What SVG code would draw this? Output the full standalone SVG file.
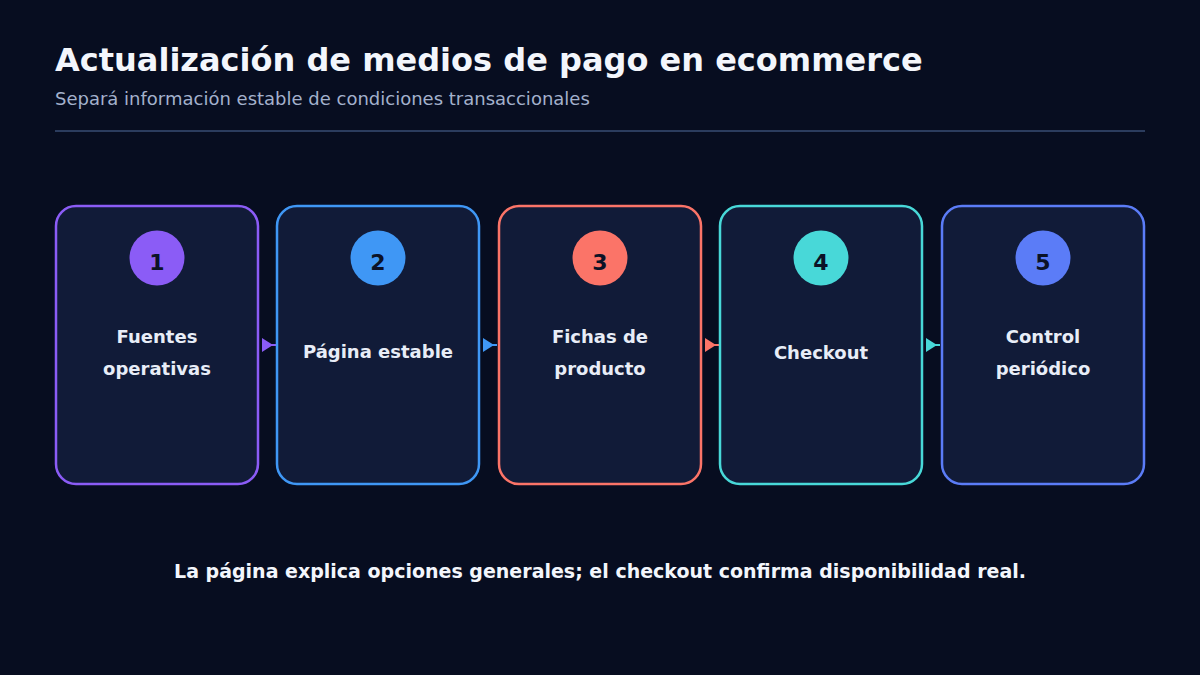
<svg xmlns="http://www.w3.org/2000/svg" width="1200" height="675" viewBox="0 0 1200 675">
<style>
.title{font-family:"DejaVu Sans",sans-serif;font-weight:bold;font-size:32px;fill:#f3f6fc}
.sub{font-family:"DejaVu Sans",sans-serif;font-size:18px;fill:#a3b1cc}
.card{fill:#111b38;stroke-width:2.5}
.num{font-family:"DejaVu Sans",sans-serif;font-weight:bold;font-size:22px;fill:#0b1226;text-anchor:middle}
.lbl{font-family:"DejaVu Sans",sans-serif;font-weight:bold;font-size:18px;fill:#e8edf7;text-anchor:middle}
.foot{font-family:"DejaVu Sans",sans-serif;font-weight:bold;font-size:19px;fill:#f3f6fc;text-anchor:middle}
.conn{stroke-width:2;fill:none}
</style>
<defs>
<marker id="a1" viewBox="0 0 10 14" refX="10" refY="7" markerWidth="10" markerHeight="14" orient="auto" markerUnits="userSpaceOnUse"><path d="M0,0 L10,7 L0,14 z" fill="#8b5cf6"/></marker>
<marker id="a2" viewBox="0 0 10 14" refX="10" refY="7" markerWidth="10" markerHeight="14" orient="auto" markerUnits="userSpaceOnUse"><path d="M0,0 L10,7 L0,14 z" fill="#3f97f5"/></marker>
<marker id="a3" viewBox="0 0 10 14" refX="10" refY="7" markerWidth="10" markerHeight="14" orient="auto" markerUnits="userSpaceOnUse"><path d="M0,0 L10,7 L0,14 z" fill="#fb7468"/></marker>
<marker id="a4" viewBox="0 0 10 14" refX="10" refY="7" markerWidth="10" markerHeight="14" orient="auto" markerUnits="userSpaceOnUse"><path d="M0,0 L10,7 L0,14 z" fill="#48d8d8"/></marker>
</defs>
<rect width="1200" height="675" fill="#070d20"/>
<text class="title" x="55" y="71">Actualización de medios de pago en ecommerce</text>
<text class="sub" x="55" y="105">Separá información estable de condiciones transaccionales</text>
<line x1="55" y1="131" x2="1145" y2="131" stroke="#2b3c5e" stroke-width="2"/>
<g id="connectors">
<line class="conn" x1="262" y1="345" x2="276" y2="345" stroke="#8b5cf6"/>
<path d="M262,338 L273,345 L262,352 z" fill="#8b5cf6"/>
<line class="conn" x1="483" y1="345" x2="497" y2="345" stroke="#3f97f5"/>
<path d="M483,338 L494,345 L483,352 z" fill="#3f97f5"/>
<line class="conn" x1="705" y1="345" x2="719" y2="345" stroke="#fb7468"/>
<path d="M705,338 L716,345 L705,352 z" fill="#fb7468"/>
<line class="conn" x1="926" y1="345" x2="940" y2="345" stroke="#48d8d8"/>
<path d="M926,338 L937,345 L926,352 z" fill="#48d8d8"/>
</g>
<g id="node1">
<rect class="card" x="56" y="206" width="202" height="278" rx="20" stroke="#8b5cf6"/>
<circle cx="157" cy="258" r="27.5" fill="#8b5cf6"/>
<text class="num" x="157" y="270">1</text>
<text class="lbl" x="157" y="343">Fuentes</text>
<text class="lbl" x="157" y="375">operativas</text>
</g>
<g id="node2">
<rect class="card" x="277" y="206" width="202" height="278" rx="20" stroke="#3f97f5"/>
<circle cx="378" cy="258" r="27.5" fill="#3f97f5"/>
<text class="num" x="378" y="270">2</text>
<text class="lbl" x="378" y="358">Página estable</text>
</g>
<g id="node3">
<rect class="card" x="499" y="206" width="202" height="278" rx="20" stroke="#fb7468"/>
<circle cx="600" cy="258" r="27.5" fill="#fb7468"/>
<text class="num" x="600" y="270">3</text>
<text class="lbl" x="600" y="343">Fichas de</text>
<text class="lbl" x="600" y="375">producto</text>
</g>
<g id="node4">
<rect class="card" x="720" y="206" width="202" height="278" rx="20" stroke="#48d8d8"/>
<circle cx="821" cy="258" r="27.5" fill="#48d8d8"/>
<text class="num" x="821" y="270">4</text>
<text class="lbl" x="821" y="359">Checkout</text>
</g>
<g id="node5">
<rect class="card" x="942" y="206" width="202" height="278" rx="20" stroke="#5b7cf7"/>
<circle cx="1043" cy="258" r="27.5" fill="#5b7cf7"/>
<text class="num" x="1043" y="270">5</text>
<text class="lbl" x="1043" y="343">Control</text>
<text class="lbl" x="1043" y="375">periódico</text>
</g>
<text class="foot" x="600" y="578">La página explica opciones generales; el checkout confirma disponibilidad real.</text>
</svg>
